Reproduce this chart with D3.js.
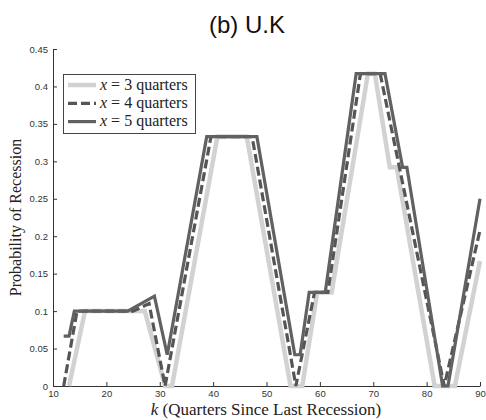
<!DOCTYPE html>
<html>
<head>
<meta charset="utf-8">
<script src="https://cdn.jsdelivr.net/npm/d3@7"></script>
<style>
  body { margin: 0; background: #fff; }
  svg { display: block; }
</style>
</head>
<body>
<div id="chart"></div>
<script>
// data: vertices (k, probability)
var k3 = [13, 16, 27.2, 31, 32.3, 40.8, 46.3, 54.5, 56.7, 59.5, 62.2, 69, 70.3, 73.1, 74.4, 81.5, 85.3, 90]
var p3 = [0, 0.1, 0.1, 0, 0, 0.333, 0.333, 0, 0, 0.125, 0.125, 0.417, 0.417, 0.292, 0.292, 0, 0, 0.167]

var k4 = [12, 14.5, 25, 28, 31, 39.6, 47.3, 55.5, 59, 61.5, 67.6, 71.3, 83.3, 90]
var p4 = [0, 0.1, 0.1, 0.11, 0, 0.333, 0.333, 0, 0.125, 0.125, 0.417, 0.417, 0, 0.208]

var k5 = [12, 13, 14, 24, 29, 31.4, 38.8, 48.2, 55.3, 56.3, 58, 61, 66.8, 72.2, 75.5, 76.3, 83, 84, 90]
var p5 = [0.0667, 0.0667, 0.1, 0.1, 0.12, 0.0417, 0.333, 0.333, 0.0417, 0.0417, 0.125, 0.125, 0.417, 0.417, 0.292, 0.292, 0, 0, 0.25]

var seriesNames = ['3', '4', '5']
var xTicks = [10, 20, 30, 40, 50, 60, 70, 80, 90]
var yTicks = [0, 0.05, 0.1, 0.15, 0.2, 0.25, 0.3, 0.35, 0.4, 0.45]

var W = 486, H = 420
var pl = 53, pr = 480, pt = 49, pb = 386

var svg = d3.select('#chart')
    .append('svg')
    .attr('width', W)
    .attr('height', H)

var x = d3.scaleLinear().domain([10, 90]).range([pl, pr])
var y = d3.scaleLinear().domain([0, 0.45]).range([pb, pt])

// axes (MATLAB style, ticks inside)
var xaxis = d3.axisBottom(x)
    .tickValues(xTicks)
    .tickSizeInner(-4)
    .tickSizeOuter(0)
    .tickPadding(4)
svg.append('g')
    .attr('transform', `translate(0, ${pb})`)
    .call(xaxis)

var yaxis = d3.axisLeft(y)
    .tickValues(yTicks)
    .tickFormat(d => String(+d.toFixed(2)))
    .tickSizeInner(-4)
    .tickSizeOuter(0)
    .tickPadding(5)
svg.append('g')
    .attr('transform', `translate(${pl}, 0)`)
    .call(yaxis)

svg.selectAll('.domain, .tick line')
    .attr('stroke', '#333')
    .attr('stroke-width', 1)
svg.selectAll('.tick text')
    .attr('fill', '#333')
    .style('font-family', '"Liberation Sans", Arial, sans-serif')
    .style('font-size', '9.5px')

// lines
var styles = {
    '3': { color: '#d2d2d2', width: 4.5, dash: null, k: k3, p: p3 },
    '4': { color: '#555555', width: 3.2, dash: '9,4', k: k4, p: p4 },
    '5': { color: '#616161', width: 3.2, dash: null, k: k5, p: p5 }
}

var line = d3.line()
    .x(d => x(d[0]))
    .y(d => y(d[1]))

seriesNames.forEach(function (s) {
    var st = styles[s]
    var pts = st.k.map((kk, i) => [kk, st.p[i]])
    svg.append('path')
        .datum(pts)
        .attr('d', line)
        .attr('fill', 'none')
        .attr('stroke', st.color)
        .attr('stroke-width', st.width)
        .attr('stroke-dasharray', st.dash)
        .attr('stroke-linejoin', 'miter')
})

// legend
var lg = svg.append('g')
lg.append('rect')
    .attr('x', 63.5)
    .attr('y', 74.5)
    .attr('width', 132)
    .attr('height', 59)
    .attr('fill', '#fff')
    .attr('stroke', '#444')
    .attr('stroke-width', 1)

seriesNames.forEach(function (s, i) {
    var st = styles[s]
    var yy = 85 + i * 18.3
    lg.append('line')
        .attr('x1', 68)
        .attr('x2', 96)
        .attr('y1', yy)
        .attr('y2', yy)
        .attr('stroke', st.color)
        .attr('stroke-width', st.width)
        .attr('stroke-dasharray', st.dash)
    var t = lg.append('text')
        .attr('x', 100)
        .attr('y', yy + 4.5)
        .attr('fill', '#222')
        .style('font-family', '"Liberation Serif", "Times New Roman", serif')
        .style('font-size', '16px')
    t.append('tspan').style('font-style', 'italic').text('x')
    t.append('tspan').text(' = ' + s + ' quarters')
})

// titles
svg.append('text')
    .text('(b) U.K')
    .attr('text-anchor', 'middle')
    .attr('x', 247)
    .attr('y', 33)
    .attr('fill', '#111')
    .style('font-family', '"Liberation Sans", Arial, sans-serif')
    .style('font-size', '24px')

var xl = svg.append('text')
    .attr('text-anchor', 'middle')
    .attr('x', 266)
    .attr('y', 415)
    .attr('fill', '#222')
    .style('font-family', '"Liberation Serif", "Times New Roman", serif')
    .style('font-size', '17px')
xl.append('tspan').style('font-style', 'italic').text('k')
xl.append('tspan').text(' (Quarters Since Last Recession)')

svg.append('text')
    .text('Probability of Recession')
    .attr('text-anchor', 'middle')
    .attr('transform', `translate(21, ${(pt + pb) / 2}) rotate(-90)`)
    .attr('fill', '#222')
    .style('font-family', '"Liberation Serif", "Times New Roman", serif')
    .style('font-size', '16px')
</script>
</body>
</html>
